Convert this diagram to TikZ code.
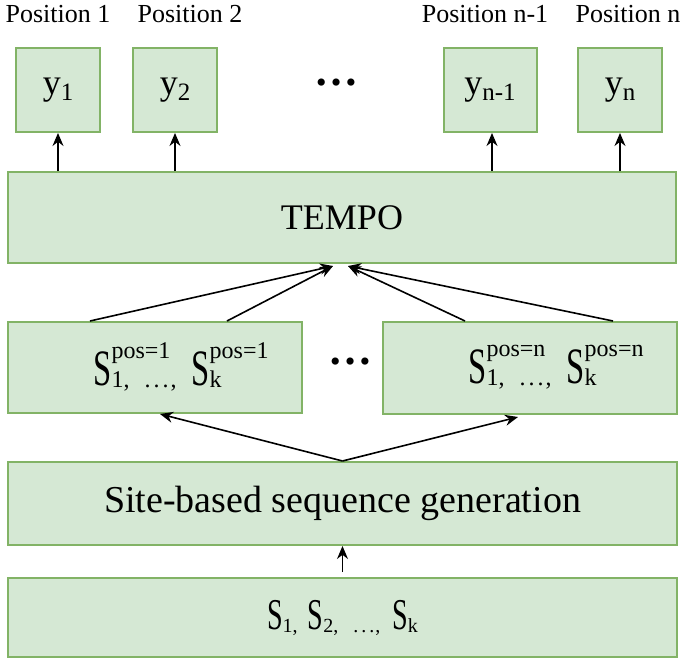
\documentclass[tikz,border=0pt]{standalone}
\usepackage{fontspec}
\setmainfont{Liberation Serif}
\usepackage{graphicx}
\usetikzlibrary{arrows.meta}
\definecolor{boxfill}{HTML}{D5E8D4}
\definecolor{boxline}{HTML}{82B366}
\tikzset{
  gbox/.style={draw=boxline, fill=boxfill, line width=2pt, inner sep=0pt, anchor=center},
  arr/.style={-{Stealth[length=13pt,width=11pt]}, line width=1.6pt},
  varr/.style={-{Stealth[length=13pt,width=11pt]}, line width=1.1pt},
  lbl/.style={inner sep=0pt, anchor=base, font=\fontsize{26}{30}\selectfont},
  ybox/.style={gbox, minimum height=84pt, font=\fontsize{36}{40}\selectfont},
}
% narrow tall S as in the reference
\newcommand{\Sn}[1]{\scalebox{0.64}[1]{\fontsize{#1}{#1}\selectfont S}}
% stacked superscript/subscript after a base glyph
\newcommand{\supsub}[4]{% size, raise, sup, sub
  \setbox0\hbox{\fontsize{#1}{#1}\selectfont #3}%
  \setbox2\hbox{\fontsize{#1}{#1}\selectfont #4}%
  \ifdim\wd0>\wd2 \dimen0=\wd0 \else \dimen0=\wd2 \fi
  \rlap{\raisebox{#2}{\box0}}\rlap{\raisebox{-2pt}{\box2}}\hspace{\dimen0}}
\newcommand{\ysub}[1]{\raisebox{-6pt}{\fontsize{25}{25}\selectfont #1}}
\newcommand{\ssub}[1]{\raisebox{-3pt}{\fontsize{20}{20}\selectfont #1}}
\newcommand{\sdots}{.\hspace{3pt}.\hspace{3pt}.}
\newcommand{\midsub}{1,\hspace{15pt}\sdots\hspace{2pt},\hspace{15pt}}
\begin{document}
\begin{tikzpicture}[x=1pt,y=1pt]
\useasboundingbox (0,0) rectangle (688,-659);
% position labels
\node[lbl] (p1) at (58,-22) {Position 1};
\node[lbl] (p2) at (190,-22) {Position 2};
\node[lbl] (p3) at (485,-22) {Position n-1};
\node[lbl] (p4) at (628,-22) {Position n};
% output boxes
\node[ybox, minimum width=84pt] (y1) at (58,-90) {y\ysub{1}};
\node[ybox, minimum width=84pt] (y2) at (175,-90) {y\ysub{2}};
\node[ybox, minimum width=93pt] (y3) at (490,-90) {y\ysub{n-1}};
\node[ybox, minimum width=84pt] (y4) at (620,-90) {y\ysub{n}};
\node[inner sep=0pt, font=\fontsize{44}{48}\bfseries\selectfont] (dt) at (336,-83) {…};
% TEMPO
\node[gbox, minimum width=668pt, minimum height=91pt, font=\fontsize{36}{40}\selectfont] (tempo) at (342,-217.5) {TEMPO};
% site sequence boxes
\node[gbox, minimum width=294pt, minimum height=91pt] (sl) at (155,-367.5)
  {\hspace{52pt}\raisebox{7pt}{\Sn{51}\supsub{24}{27pt}{pos=1}{\midsub}\Sn{51}\supsub{24}{27pt}{pos=1}{k}}};
\node[gbox, minimum width=294pt, minimum height=92pt] (sr) at (530,-368)
  {\hspace{52pt}\raisebox{7pt}{\Sn{51}\supsub{24}{27pt}{pos=n}{\midsub}\Sn{51}\supsub{24}{27pt}{pos=n}{k}}};
\node[inner sep=0pt, font=\fontsize{44}{48}\bfseries\selectfont] (dm) at (350,-362) {…};
% generation box
\node[gbox, minimum width=669pt, minimum height=83pt, font=\fontsize{38}{42}\selectfont] (site) at (342.5,-503.5) {Site-based sequence generation};
% input box
\node[gbox, minimum width=669pt, minimum height=79pt] (inp) at (342.5,-617.5)
  {\Sn{44}\ssub{1,}\hspace{10pt}\Sn{44}\ssub{2,}\hspace{15pt}\ssub{\sdots\hspace{1pt},}\hspace{12pt}\Sn{44}\ssub{k}};
% arrows TEMPO -> outputs
\draw[varr] (y1.south |- tempo.north) -- (y1.south);
\draw[varr] (y2.south |- tempo.north) -- (y2.south);
\draw[varr] ([xshift=2pt]y3.south |- tempo.north) -- ([xshift=2pt]y3.south);
\draw[varr] (y4.south |- tempo.north) -- (y4.south);
% S boxes -> TEMPO
\draw[arr] ([xshift=-65pt]sl.north) -- ([xshift=-9pt,yshift=-2pt]tempo.south);
\draw[arr] ([xshift=72pt]sl.north) -- ([xshift=-9pt,yshift=-2pt]tempo.south);
\draw[arr] ([xshift=-65pt]sr.north) -- ([xshift=6pt,yshift=-2pt]tempo.south);
\draw[arr] ([xshift=83pt]sr.north) -- ([xshift=6pt,yshift=-2pt]tempo.south);
% generation -> S boxes
\draw[arr] (site.north) -- ([xshift=5pt]sl.south);
\draw[arr] (site.north) -- ([xshift=-12pt,yshift=-2pt]sr.south);
% input -> generation
\draw[varr] ([yshift=5pt]inp.north) -- (site.south);
\end{tikzpicture}
\end{document}
